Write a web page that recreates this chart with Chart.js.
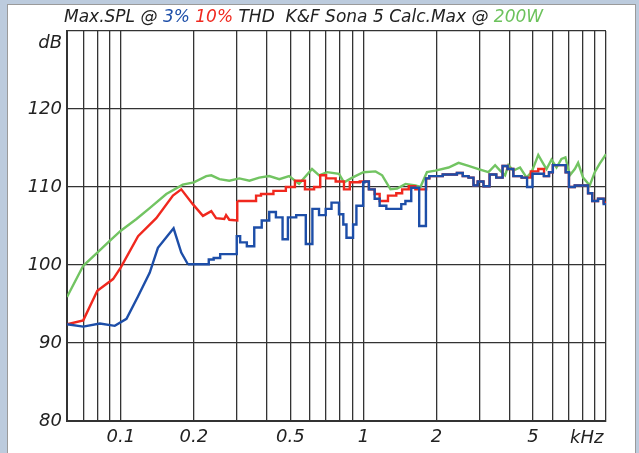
<!DOCTYPE html>
<html lang="en">
<head>
<meta charset="UTF-8">
<title>Max.SPL K&F Sona 5</title>
<script src="https://cdn.jsdelivr.net/npm/chart.js"></script>
<style>
  body { margin: 0; background: #bccbdd; width: 639px; height: 453px; overflow: hidden; position: relative; }
  #panel { position: absolute; left: 7px; top: 4px; width: 627px; height: 449px; background: #fff;
           border-left: 1px solid #9a9a9a; border-top: 1px solid #9a9a9a; border-right: 1px solid #9a9a9a; }
  #chart { position: absolute; left: 0; top: 0; }
  .lbl { position: absolute; font-family: 'DejaVu Sans', sans-serif; font-style: italic; color: #222; white-space: pre; }
  #title { left: 64px; top: 6px; font-size: 17px; }
  #db { right: 577px; top: 31px; font-size: 18px; }
  #khz { left: 570px; top: 426px; font-size: 18px; }
</style>
</head>
<body>
<div id="panel"></div>
<canvas id="chart" width="639" height="453"></canvas>
<div class="lbl" id="title">Max.SPL @ <span style="color:#1d4ea8">3%</span> <span style="color:#f0281e">10%</span> THD  K&amp;F Sona 5 Calc.Max @ <span style="color:#6cc25c">200W</span></div>
<div class="lbl" id="db">dB</div>
<div class="lbl" id="khz">kHz</div>
<script>
// frequencies in kHz, levels in dB
var greenFreq = [0.06, 0.07, 0.08, 0.09, 0.1, 0.116, 0.1315, 0.154, 0.18, 0.2, 0.225, 0.236, 0.255, 0.28, 0.308, 0.339, 0.372, 0.409, 0.45, 0.494, 0.543, 0.614, 0.657, 0.708, 0.793, 0.832, 0.9, 1.0, 1.122, 1.195, 1.293, 1.377, 1.491, 1.638, 1.718, 1.828, 1.979, 2.244, 2.467, 2.712, 2.981, 3.277, 3.491, 3.66, 3.837, 3.959, 4.15, 4.422, 4.706, 4.933, 5.257, 5.511, 5.686, 5.961, 6.251, 6.553, 6.805, 7.095, 7.437, 7.674, 8.045, 8.57, 8.986, 9.421, 10];
var greenDb   = [95.9, 99.9, 101.6, 103.1, 104.4, 105.9, 107.3, 109.1, 110.3, 110.6, 111.4, 111.5, 111.0, 110.8, 111.1, 110.8, 111.2, 111.4, 111.0, 111.4, 110.4, 112.3, 111.5, 111.9, 111.7, 110.6, 111.2, 111.9, 112.0, 111.5, 109.7, 109.8, 110.4, 110.2, 110.0, 111.9, 112.1, 112.5, 113.1, 112.7, 112.3, 111.9, 112.8, 112.1, 111.5, 112.8, 112.1, 112.5, 111.2, 111.9, 114.1, 113.0, 112.3, 113.5, 112.5, 113.6, 113.8, 111.5, 112.3, 113.1, 111.2, 110.2, 111.9, 113.0, 114.2];

var redFreq = [0.06, 0.07, 0.08, 0.0929, 0.1, 0.1178, 0.14, 0.164, 0.1775, 0.198, 0.218, 0.236, 0.247, 0.267, 0.2716, 0.28, 0.302, 0.302, 0.361, 0.361, 0.3965, 0.457, 0.502, 0.543, 0.607, 0.646, 0.682, 0.722, 0.818, 0.845, 0.914, 1.021, 1.087, 1.139, 1.195, 1.334, 1.399, 1.491, 1.586, 1.69, 1.8, 1.828, 1.916, 2.353, 2.507, 2.629, 2.798, 2.889, 3.029, 3.225, 3.403, 3.66, 3.837, 4.023, 4.281, 4.706, 5.096, 5.425, 5.686, 5.961, 6.115, 6.767, 6.87, 7.204, 7.674, 8.3, 8.57, 8.986, 9.565, 10];
var redDb   = [92.4, 92.9, 96.7, 98.2, 99.7, 103.7, 106.0, 108.9, 109.7, 107.8, 106.3, 106.9, 106.0, 105.9, 106.4, 105.8, 105.7, 108.2, 108.2, 108.9, 109.1, 109.5, 110.0, 110.8, 109.7, 110.0, 111.5, 111.1, 110.7, 109.7, 110.6, 110.7, 109.7, 109.1, 108.2, 108.9, 109.2, 109.7, 110.1, 109.7, 109.7, 111.1, 111.4, 111.6, 111.8, 111.4, 111.2, 110.2, 110.7, 110.1, 111.6, 111.2, 112.7, 112.3, 111.4, 111.2, 112.0, 112.3, 111.4, 111.9, 112.8, 112.8, 111.9, 110.0, 110.2, 110.2, 109.2, 108.2, 108.5, 108.0];

var blueFreq = [0.06, 0.07, 0.082, 0.0944, 0.1055, 0.1178, 0.1315, 0.1422, 0.165, 0.1775, 0.189, 0.225, 0.236, 0.247, 0.267, 0.298, 0.303, 0.318, 0.344, 0.366, 0.3965, 0.422, 0.45, 0.479, 0.498, 0.561, 0.597, 0.636, 0.677, 0.722, 0.756, 0.778, 0.808, 0.845, 0.858, 0.899, 0.914, 0.958, 0.995, 1.0, 1.021, 1.087, 1.139, 1.195, 1.293, 1.422, 1.443, 1.538, 1.612, 1.69, 1.706, 1.8, 1.82, 1.916, 2.353, 2.507, 2.629, 2.798, 2.889, 3.029, 3.225, 3.403, 3.66, 3.837, 4.023, 4.281, 4.706, 4.75, 4.95, 5.0, 5.4, 5.686, 5.961, 6.115, 6.767, 6.87, 7.204, 7.674, 8.3, 8.57, 8.986, 9.565, 10];
var blueDb   = [92.4, 92.1, 92.5, 92.2, 93.1, 96.0, 99.0, 102.2, 104.7, 101.6, 100.1, 100.1, 100.7, 100.9, 101.4, 101.4, 103.7, 102.9, 102.4, 104.8, 105.7, 106.8, 106.1, 103.3, 106.1, 106.4, 102.7, 107.2, 106.4, 107.2, 108.0, 108.0, 106.5, 105.2, 103.5, 103.5, 105.2, 107.6, 107.6, 110.6, 110.7, 109.7, 108.5, 107.6, 107.2, 107.2, 107.8, 108.2, 109.9, 109.9, 105.0, 105.0, 111.1, 111.4, 111.6, 111.8, 111.4, 111.2, 110.2, 110.7, 110.1, 111.6, 111.2, 112.7, 112.3, 111.4, 111.2, 110.0, 110.0, 111.7, 111.7, 111.4, 111.9, 112.8, 112.8, 111.9, 110.0, 110.2, 110.2, 109.2, 108.2, 108.5, 107.8];

// above these frequencies the measured curves are drawn as stairs
var redStepFrom = 0.302;
var blueStepFrom = 0.189;

var gridFreqs = [0.06, 0.07, 0.08, 0.09, 0.1, 0.2, 0.3, 0.4, 0.5, 0.6, 0.7, 0.8, 0.9, 1, 2, 3, 4, 5, 6, 7, 8, 9, 10];
var labelFreqs = [0.1, 0.2, 0.5, 1, 2, 5];

function pts(f, v) {
    return f.map(function (x, i) { return { x: x, y: v[i] }; });
}
function lowPart(f, v, s) {
    return pts(f, v).filter(function (p) { return p.x <= s; });
}
function highPart(f, v, s) {
    var all = pts(f, v);
    var low = all.filter(function (p) { return p.x <= s; });
    return [low[low.length - 1]].concat(all.filter(function (p) { return p.x > s; }));
}

var blue = '#1d4ea8', red = '#f0281e', green = '#72c462';
var tickFont = { family: 'DejaVu Sans', size: 18, style: 'italic' };

new Chart(document.getElementById('chart'), {
    type: 'line',
    data: {
        datasets: [
            { label: '3%', data: lowPart(blueFreq, blueDb, blueStepFrom), borderColor: blue, order: 0 },
            { label: '3% steps', data: highPart(blueFreq, blueDb, blueStepFrom), borderColor: blue, stepped: 'middle', order: 0 },
            { label: '10%', data: lowPart(redFreq, redDb, redStepFrom), borderColor: red, order: 1 },
            { label: '10% steps', data: highPart(redFreq, redDb, redStepFrom), borderColor: red, stepped: 'middle', order: 1 },
            { label: '200W', data: pts(greenFreq, greenDb), borderColor: green, order: 2 }
        ]
    },
    options: {
        responsive: false,
        animation: false,
        events: [],
        elements: {
            line: { borderWidth: 2.4, tension: 0, fill: false },
            point: { radius: 0 }
        },
        layout: { padding: { left: 0, top: 31, right: 33, bottom: 0 } },
        plugins: { legend: { display: false }, tooltip: { enabled: false }, title: { display: false } },
        scales: {
            x: {
                type: 'logarithmic',
                min: 0.06,
                max: 10,
                afterBuildTicks: function (scale) {
                    scale.ticks = gridFreqs.map(function (v) { return { value: v }; });
                },
                afterFit: function (scale) { scale.height = 32; },
                ticks: {
                    autoSkip: false,
                    maxRotation: 0,
                    padding: 6,
                    color: '#222',
                    font: tickFont,
                    callback: function (v) { return labelFreqs.indexOf(v) >= 0 ? String(v) : ''; }
                },
                grid: { color: '#333', lineWidth: 1.3, drawTicks: false },
                border: { color: '#333', width: 2 }
            },
            y: {
                min: 80,
                max: 130,
                afterFit: function (scale) { scale.width = 67; },
                ticks: {
                    stepSize: 10,
                    padding: 5,
                    color: '#222',
                    font: tickFont,
                    callback: function (v) { return v === 130 ? '' : String(v); }
                },
                grid: { color: '#333', lineWidth: 1.3, drawTicks: false },
                border: { color: '#333', width: 2 }
            }
        }
    }
});
</script>
</body>
</html>
